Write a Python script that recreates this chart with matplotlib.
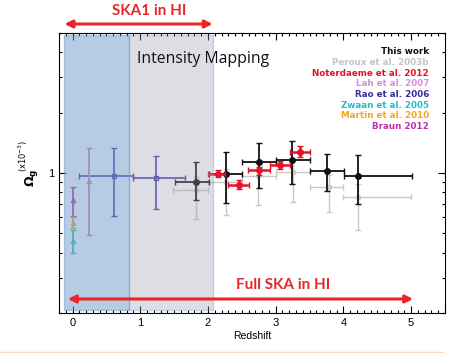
import matplotlib
matplotlib.use('Agg')
import matplotlib.pyplot as plt
from matplotlib.ticker import FixedLocator, MultipleLocator, NullFormatter, FixedFormatter
from matplotlib.lines import Line2D

# This work
z_tw = [1.83, 2.27, 2.75, 3.24, 3.76, 4.21]
om_tw = [0.90, 0.99, 1.13, 1.16, 1.02, 0.97]
z_tw_lo = [1.51, 2.01, 2.50, 3.01, 3.51, 4.01]
z_tw_hi = [2.01, 2.50, 3.01, 3.51, 4.01, 5.01]
om_tw_lo = [0.73, 0.71, 0.84, 0.88, 0.81, 0.70]
om_tw_hi = [1.14, 1.27, 1.41, 1.44, 1.24, 1.23]

# Peroux et al. 2003b
z_pe = [1.83, 2.27, 2.74, 3.26, 3.79, 4.21]
om_pe = [0.82, 0.90, 0.97, 1.01, 0.85, 0.76]
z_pe_lo = [1.48, 2.00, 2.50, 3.00, 3.50, 4.00]
z_pe_hi = [2.00, 2.50, 3.00, 3.50, 4.00, 5.00]
om_pe_lo = [0.59, 0.62, 0.69, 0.72, 0.64, 0.52]
om_pe_hi = [0.95, 1.05, 1.12, 1.16, 0.98, 0.88]

# Noterdaeme et al. 2012
z_no = [2.15, 2.46, 2.75, 3.06, 3.36]
om_no = [0.99, 0.87, 1.03, 1.10, 1.27]
z_no_lo = [2.00, 2.29, 2.59, 2.91, 3.21]
z_no_hi = [2.25, 2.61, 2.91, 3.21, 3.51]
om_no_lo = [0.96, 0.83, 0.98, 1.05, 1.20]
om_no_hi = [1.03, 0.92, 1.07, 1.15, 1.36]

# Rao et al. 2006
z_rao = [0.61, 1.23]
om_rao = [0.97, 0.94]
z_rao_lo = [0.10, 0.89]
z_rao_hi = [0.89, 1.66]
om_rao_lo = [0.61, 0.66]
om_rao_hi = [1.33, 1.21]

# single low-z points: Lah, Braun, Martin, Zwaan
z_low = [0.24, 0.0, 0.0, 0.0]
om_low = [0.91, 0.73, 0.565, 0.46]
om_low_lo = [0.49, 0.61, 0.53, 0.40]
om_low_hi = [1.33, 0.85, 0.60, 0.52]
low_colors = ['#c584cc', '#b23aa8', '#eeaa30', '#22c4cc']

legend_names = ['This work', 'Peroux et al. 2003b', 'Noterdaeme et al. 2012', 'Lah et al. 2007',
                'Rao et al. 2006', 'Zwaan et al. 2005', 'Martin et al. 2010', 'Braun 2012']
legend_colors = ['#111111', '#c4c4c4', '#e8102a', '#d890d8', '#3a2c98', '#20c0c8', '#f0a820', '#c030b0']

W, H = 454, 353
fig = plt.figure(figsize=(W / 100, H / 100), dpi=100)
ax = fig.add_axes([59 / W, 1 - 313 / H, (445 - 59) / W, (313 - 33) / H])


def err(v, lo, hi):
    return [[a - b for a, b in zip(v, lo)], [b - a for a, b in zip(v, hi)]]


ax.errorbar(z_pe, om_pe, xerr=err(z_pe, z_pe_lo, z_pe_hi), yerr=err(om_pe, om_pe_lo, om_pe_hi),
            fmt='o', ms=3, color='#c8c8c8', lw=1, capsize=2, zorder=2)
ax.errorbar(z_tw, om_tw, xerr=err(z_tw, z_tw_lo, z_tw_hi), yerr=err(om_tw, om_tw_lo, om_tw_hi),
            fmt='o', ms=4, color='#111111', lw=1.3, capsize=2, zorder=3)
ax.errorbar(z_no, om_no, xerr=err(z_no, z_no_lo, z_no_hi), yerr=err(om_no, om_no_lo, om_no_hi),
            fmt='o', ms=4, color='#e8102a', lw=1.8, capsize=2, zorder=4)
ax.errorbar(z_rao, om_rao, xerr=err(z_rao, z_rao_lo, z_rao_hi), yerr=err(om_rao, om_rao_lo, om_rao_hi),
            fmt='s', ms=3, mfc='none', color='#4a3cb0', lw=1.2, capsize=2, zorder=3)
for z, o, lo, hi, c in zip(z_low, om_low, om_low_lo, om_low_hi, low_colors):
    ax.errorbar([z], [o], yerr=[[o - lo], [hi - o]], fmt='^', ms=3, mfc='none',
                color=c, lw=1.3, capsize=2, zorder=3)

# overlay bands
ax.axvspan(-0.12, 0.83, ymin=0.01, ymax=0.993, facecolor='#7199c9', alpha=0.5,
           edgecolor='#6a9ad4', lw=1, zorder=5)
ax.axvspan(0.83, 2.07, ymin=0.01, ymax=0.993, facecolor='#9ba1b2', alpha=0.35,
           edgecolor='#6a9ad4', lw=1, zorder=5)

ax.set_yscale('log')
ax.set_xlim(-0.2, 5.5)
ax.set_ylim(0.2, 5)
ax.xaxis.set_major_locator(MultipleLocator(1))
ax.xaxis.set_minor_locator(MultipleLocator(0.1))
ax.yaxis.set_major_locator(FixedLocator([1]))
ax.yaxis.set_major_formatter(FixedFormatter(['1']))
ax.yaxis.set_minor_locator(FixedLocator([0.2, 0.3, 0.4, 0.5, 0.6, 0.7, 0.8, 0.9, 2, 3, 4, 5]))
ax.yaxis.set_minor_formatter(NullFormatter())
ax.tick_params(which='both', direction='in', top=True, right=True, labelsize=8, width=0.8)
ax.tick_params(which='major', length=5)
ax.tick_params(which='minor', length=2.5)
for lab in ax.get_xticklabels() + ax.get_yticklabels():
    lab.set_fontfamily('Liberation Sans')
for s in ax.spines.values():
    s.set_linewidth(0.8)
ax.set_xlabel('Redshift', fontsize=7.5, fontfamily='Liberation Sans', labelpad=2)

fig.text(31 / W, 1 - 178 / H, r'$\mathbf{\Omega_g}$', rotation=90, fontsize=9,
         ha='center', va='center')
fig.text(23 / W, 1 - 156 / H, r'$(\mathrm{x}10^{-3})$', rotation=90, fontsize=6,
         ha='center', va='center')

for i, (name, c) in enumerate(zip(legend_names, legend_colors)):
    fig.text(429 / W, 1 - (52 + 10.6 * i) / H, name, color=c, fontsize=6.3,
             fontweight='bold', ha='right', va='center')

fig.text(137 / W, 1 - 59 / H, 'Intensity Mapping', fontsize=11.3, fontfamily='Open Sans',
         ha='left', va='center', color='#111111')

red = '#e8262a'
ax.annotate('', xy=(-0.12, H - 24), xytext=(2.07, H - 24), xycoords=('data', 'figure pixels'),
            textcoords=('data', 'figure pixels'), annotation_clip=False,
            arrowprops=dict(arrowstyle='<|-|>', color=red, lw=2.2, mutation_scale=11, shrinkA=0, shrinkB=0))
fig.text(149 / W, 1 - 11 / H, 'SKA1 in HI', color=red, fontsize=11, fontweight='bold',
         fontfamily='Lato', ha='center', va='center')
ax.annotate('', xy=(-0.07, H - 299), xytext=(5.03, H - 299), xycoords=('data', 'figure pixels'),
            textcoords=('data', 'figure pixels'), annotation_clip=False,
            arrowprops=dict(arrowstyle='<|-|>', color=red, lw=2.2, mutation_scale=11, shrinkA=0, shrinkB=0),
            zorder=6)
fig.text(283 / W, 1 - 285 / H, 'Full SKA in HI', color=red, fontsize=11, fontweight='bold',
         fontfamily='Lato', ha='center', va='center')

fig.add_artist(Line2D([0, 443 / W], [1 - 352 / H, 1 - 352 / H], color='#f8d8c4', lw=1))

fig.savefig('out.png', dpi=100)
